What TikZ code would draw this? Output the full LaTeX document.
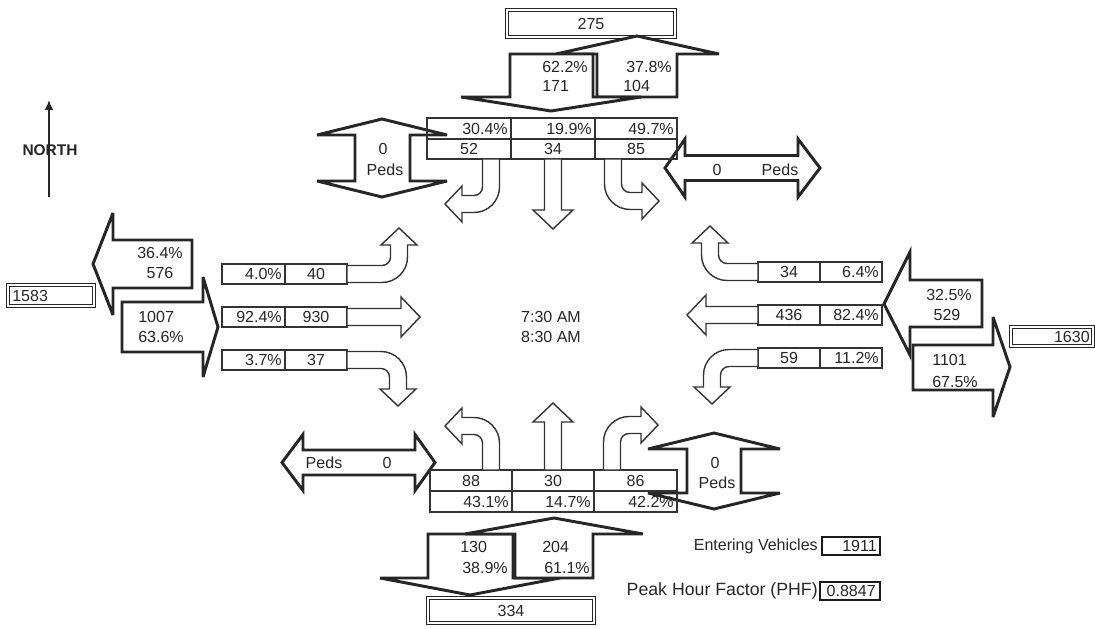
\documentclass[tikz,border=0pt]{standalone}
\usepackage{fontspec}
\setmainfont{Liberation Sans}
\usetikzlibrary{arrows.meta}

\begin{document}
\begin{tikzpicture}[x=0.025cm, y=-0.025cm,
    txt/.style={inner sep=0pt, text=black!85, font=\fontsize{11.4}{13}\selectfont},
    cell/.style={draw=black!80, line width=0.8pt},
    cntbox/.style={draw=black!85, line width=1.1pt, double, double distance=0.9pt},
    legbox/.style={draw=black!90, line width=1.8pt},
    bigarr/.style={draw=black!85, fill=white, line width=2.1pt, line join=miter, miter limit=5},
    mvline/.style={draw=black!80, fill=white, line width=1pt, line join=miter},
    pics/turnarr/.style={code={
      \draw[mvline] (0,-8.5) -- (#1-17,-8.5)
        .. controls (#1-12.31,-8.5) and (#1-8.5,-12.31) .. (#1-8.5,-17)
        -- (#1-8.5,-29) -- (#1-18,-29) -- (#1,-46) -- (#1+18,-29) -- (#1+8.5,-29)
        -- (#1+8.5,-17)
        .. controls (#1+8.5,-2.92) and (#1-2.92,8.5) .. (#1-17,8.5)
        -- (0,8.5) -- cycle;
    }},
    pics/thruarr/.style={code={
      \draw[mvline] (0,-8.5) -- (#1-19,-8.5) -- (#1-19,-20) -- (#1,0)
        -- (#1-19,20) -- (#1-19,8.5) -- (0,8.5) -- cycle;
    }}]
  \useasboundingbox (0,0) rectangle (1095,629);

  % ---- north sign ----
  \coordinate (nbase) at (49,197);
  \coordinate (ntip) at (49,100);
  \draw[-{Latex[length=7pt,width=6pt]}, line width=0.8pt, black!85] (nbase) -- (ntip);
  \node[inner sep=0pt, text=black!85, font=\bfseries\fontsize{11}{13}\selectfont] (north) at (50,150) {NORTH};

  % ---- north leg ----
  \draw[cntbox] (507,10) rectangle (675,37);
  \node[txt] (nout) at (591,23.5) {275};
  \draw[bigarr] (597,97) -- (597,54) -- (556,54) -- (637,36) -- (719,54) -- (677,54) -- (677,97) -- cycle;
  \draw[bigarr] (510,54) -- (593,54) -- (593,97) -- (641,97) -- (551,111) -- (461,97) -- (510,97) -- cycle;
  \node[txt,anchor=east] (nin1) at (588,67) {62.2\%};
  \node[txt,anchor=west] (nin2) at (542,86) {171};
  \node[txt,anchor=east] (nex1) at (672,67) {37.8\%};
  \node[txt,anchor=west] (nex2) at (623,86) {104};
  % peds across the north leg
  \draw[bigarr] (355,135) -- (317,135) -- (382,119) -- (447,135) -- (410,135) -- (410,181)
    -- (447,181) -- (382,197) -- (317,181) -- (355,181) -- cycle;
  \node[txt] (npv) at (383,149) {0};
  \node[txt] (npl) at (385,170) {Peds};
  % peds across the east leg
  \draw[bigarr] (685,155.5) -- (685,139) -- (665,168) -- (685,197) -- (685,180.5) -- (798,180.5)
    -- (798,197) -- (820,168) -- (798,139) -- (798,155.5) -- cycle;
  \node[txt] (epv) at (717,170) {0};
  \node[txt] (epl) at (780,170) {Peds};
  % southbound lanes
  \foreach \xa/\xb/\pc/\vol [count=\i] in {427/511/30.4\%/52, 511/595/19.9\%/34, 595/677/49.7\%/85}{
    \draw[cell] (\xa,118) rectangle (\xb,159);
    \draw[cell] (\xa,139) -- (\xb,139);
    \node[txt,anchor=east] (np\i) at (\xb-3,128.5) {\pc};
    \node[txt] (nv\i) at ({(\xa+\xb)/2},149) {\vol};
  }
  \pic[rotate=-90,yscale=-1] at (491,159) {turnarr=45};
  \pic[rotate=-90] at (553,159) {thruarr=70};
  \pic[rotate=-90] at (613,159) {turnarr=42};

  % ---- west leg ----
  \draw[cntbox] (8,285) rectangle (94,306);
  \node[txt,anchor=west] (wout) at (12,295.5) {1583};
  \draw[bigarr] (192,240) -- (113,240) -- (113,213) -- (93,264) -- (113,315) -- (113,288) -- (192,288) -- cycle;
  \draw[bigarr] (122,302) -- (203,302) -- (203,277) -- (218,327) -- (203,377) -- (203,352) -- (122,352) -- cycle;
  \node[txt] (wex1) at (160,253) {36.4\%};
  \node[txt] (wex2) at (160,273) {576};
  \node[txt,anchor=west] (win1) at (138,317) {1007};
  \node[txt,anchor=west] (win2) at (138,337) {63.6\%};
  \foreach \yc/\pc/\vol [count=\i] in {274/4.0\%/40, 317/92.4\%/930, 360/3.7\%/37}{
    \draw[cell] (222,\yc-10) rectangle (347,\yc+10);
    \draw[cell] (285,\yc-10) -- (285,\yc+10);
    \node[txt,anchor=east] (wp\i) at (282,\yc) {\pc};
    \node[txt] (wv\i) at (316,\yc) {\vol};
  }
  \pic at (347,274) {turnarr=52};
  \pic at (347,317) {thruarr=73};
  \pic[yscale=-1] at (347,360) {turnarr=51};

  % ---- east leg ----
  \draw[bigarr] (982,280) -- (910,280) -- (910,252) -- (884,304) -- (910,355) -- (910,327) -- (982,327) -- cycle;
  \draw[bigarr] (913,345) -- (993,345) -- (993,317) -- (1010,367) -- (993,417) -- (993,390) -- (913,390) -- cycle;
  \node[txt] (eex1) at (949,295) {32.5\%};
  \node[txt] (eex2) at (947,315) {529};
  \node[txt,anchor=west] (ein1) at (932,360) {1101};
  \node[txt,anchor=west] (ein2) at (932,382) {67.5\%};
  \draw[cntbox] (1011,327) rectangle (1093,346);
  \node[txt,anchor=east] (eout) at (1090,336.5) {1630};
  \foreach \yc/\vol/\pc [count=\i] in {272/34/6.4\%, 315/436/82.4\%, 358/59/11.2\%}{
    \draw[cell] (758,\yc-10) rectangle (882,\yc+10);
    \draw[cell] (820,\yc-10) -- (820,\yc+10);
    \node[txt] (ev\i) at (789,\yc) {\vol};
    \node[txt,anchor=east] (ep\i) at (879,\yc) {\pc};
  }
  \pic[xscale=-1] at (758,272) {turnarr=48};
  \pic[xscale=-1] at (758,315) {thruarr=71};
  \pic[xscale=-1,yscale=-1] at (758,358) {turnarr=46};

  % ---- time period ----
  \node[txt] (t1) at (551,317) {7:30 AM};
  \node[txt] (t2) at (551,337) {8:30 AM};

  % ---- south leg ----
  \draw[bigarr] (303,450) -- (303,434.5) -- (282,462.5) -- (303,490.5) -- (303,475) -- (415,475)
    -- (415,490.5) -- (435,462.5) -- (415,434.5) -- (415,450) -- cycle;
  \node[txt] (spl) at (324,463) {Peds};
  \node[txt] (spv) at (387,463) {0};
  \draw[bigarr] (687,449) -- (648,449) -- (714,433) -- (780,449) -- (741,449) -- (741,493)
    -- (780,493) -- (714,509) -- (648,493) -- (687,493) -- cycle;
  \node[txt] (rpv) at (715,463) {0};
  \node[txt] (rpl) at (717,483) {Peds};
  \foreach \xa/\xb/\vol/\pc [count=\i] in {430/512/88/43.1\%, 512/594/30/14.7\%, 594/677/86/42.2\%}{
    \draw[cell] (\xa,470) rectangle (\xb,512);
    \draw[cell] (\xa,491) -- (\xb,491);
    \node[txt] (sv\i) at ({(\xa+\xb)/2},480.5) {\vol};
    \node[txt,anchor=east] (sp\i) at (\xb-3,501.5) {\pc};
  }
  \pic[rotate=90] at (491,470) {turnarr=44};
  \pic[rotate=90] at (553,470) {thruarr=67};
  \pic[rotate=90,yscale=-1] at (612,470) {turnarr=45};
  \draw[bigarr] (513,534) -- (513,578) -- (560,578) -- (470,595) -- (380,578) -- (428,578) -- (428,534) -- cycle;
  \draw[bigarr] (515,578) -- (515,534) -- (465,534) -- (554,518) -- (643,534) -- (593,534) -- (593,578) -- cycle;
  \node[txt,anchor=west] (sex1) at (460,547) {130};
  \node[txt,anchor=east] (sex2) at (508,568) {38.9\%};
  \node[txt,anchor=west] (sin1) at (542,547) {204};
  \node[txt,anchor=east] (sin2) at (590,568) {61.1\%};
  \draw[cntbox] (428,598) rectangle (594,623);
  \node[txt] (sout) at (511,610.5) {334};

  % ---- totals ----
  \node[txt,anchor=east] (evlab) at (818,546) {Entering Vehicles};
  \draw[legbox] (822,537) rectangle (880,555);
  \node[txt,anchor=east] (evnum) at (877,546) {1911};
  \node[txt,anchor=east,font=\fontsize{12.6}{14}\selectfont] (phlab) at (818,591) {Peak Hour Factor (PHF)};
  \draw[legbox] (820,582) rectangle (880,600);
  \node[txt,anchor=east] (phnum) at (876,591) {0.8847};
\end{tikzpicture}
\end{document}
